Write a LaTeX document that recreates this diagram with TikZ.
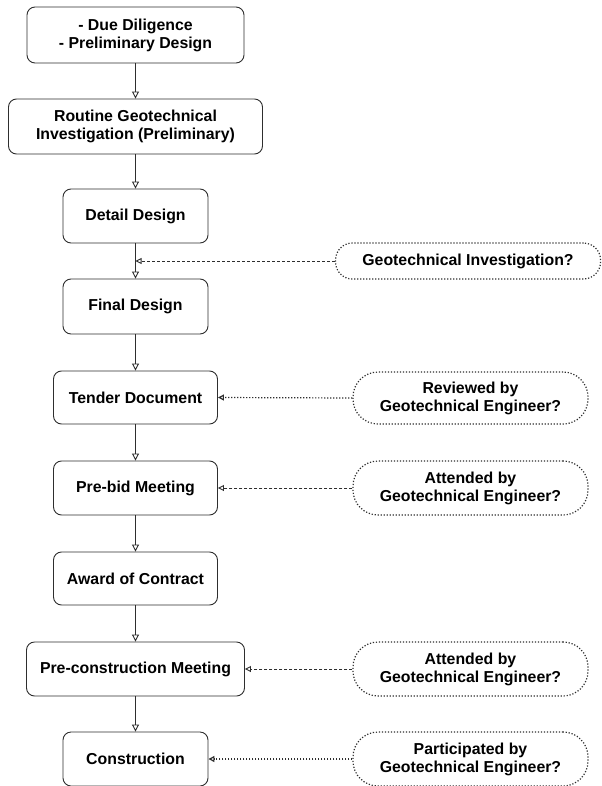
\documentclass[tikz,border=0pt]{standalone}
\usepackage{fontspec}
\setmainfont{Liberation Sans}
\usetikzlibrary{arrows.meta}
\definecolor{lc}{HTML}{2E2E2E}
\tikzset{
  box/.style={draw=lc, line width=0.9bp, rounded corners=8bp, align=center, inner sep=0pt,
    font=\fontsize{15.9}{18}\selectfont\bfseries, text=black},
  pill/.style={draw=lc, line width=1.2bp, rounded corners=25bp, align=center, inner sep=0pt,
    dash pattern=on 1.2bp off 1.8bp, font=\fontsize{15.9}{18}\selectfont\bfseries, text=black},
  flow/.style={draw=lc, line width=0.9bp, -{Triangle[open, length=7bp, width=7bp]}},
  dashconn/.style={draw=lc, line width=0.9bp, dash pattern=on 3bp off 2bp, -{Triangle[open, length=6bp, width=6bp]}},
  dotconn/.style={draw=lc, line width=1.2bp, dash pattern=on 1.2bp off 1.8bp, -{Triangle[open, length=6bp, width=6bp]}},
}
\begin{document}
\begin{tikzpicture}[x=1bp, y=-1bp]
\useasboundingbox (0,0) rectangle (602,786);
\node[box, minimum width=217bp, minimum height=56bp] (b1) at (135.5,35) {- Due Diligence\\- Preliminary Design};
\node[box, minimum width=254bp, minimum height=55bp] (b2) at (135.5,126.5) {Routine Geotechnical\\Investigation (Preliminary)};
\node[box, minimum width=145bp, minimum height=54bp] (b3) at (135.5,216) {Detail Design};
\node[box, minimum width=145bp, minimum height=55bp] (b4) at (135.5,306.5) {Final Design};
\node[box, minimum width=164bp, minimum height=53bp] (b5) at (135.5,397.5) {Tender Document};
\node[box, minimum width=164bp, minimum height=54bp] (b6) at (135.5,488) {Pre-bid Meeting};
\node[box, minimum width=164bp, minimum height=53bp] (b7) at (135.5,578.5) {Award of Contract};
\node[box, minimum width=218bp, minimum height=54bp] (b8) at (135.5,669) {Pre-construction Meeting};
\node[box, minimum width=145bp, minimum height=54bp] (b9) at (135.5,759) {Construction};

\node[pill, rounded corners=17bp, minimum width=265bp, minimum height=36bp] (p1) at (468,261) {Geotechnical Investigation?};
\node[pill, minimum width=235bp, minimum height=52bp] (p2) at (470.5,398) {Reviewed by\\Geotechnical Engineer?};
\node[pill, minimum width=235bp, minimum height=54bp] (p3) at (470.5,488) {Attended by\\Geotechnical Engineer?};
\node[pill, minimum width=235bp, minimum height=54bp] (p4) at (470.5,669) {Attended by\\Geotechnical Engineer?};
\node[pill, minimum width=235bp, minimum height=54bp] (p5) at (470.5,759) {Participated by\\Geotechnical Engineer?};

\draw[flow] (b1) -- (b2);
\draw[flow] (b2) -- (b3);
\draw[flow] (b3) -- (b4);
\draw[flow] (b4) -- (b5);
\draw[flow] (b5) -- (b6);
\draw[flow] (b6) -- (b7);
\draw[flow] (b7) -- (b8);
\draw[flow] (b8) -- (b9);

\coordinate (m34) at (135.5,261);
\draw[dashconn] (p1.west) -- (m34);
\draw[dotconn] (p2.west) -- (b5.east);
\draw[dashconn] (p3.west) -- (b6.east);
\draw[dashconn] (p4.west) -- (b8.east);
\draw[dotconn] (p5.west) -- (b9.east);
\end{tikzpicture}
\end{document}
